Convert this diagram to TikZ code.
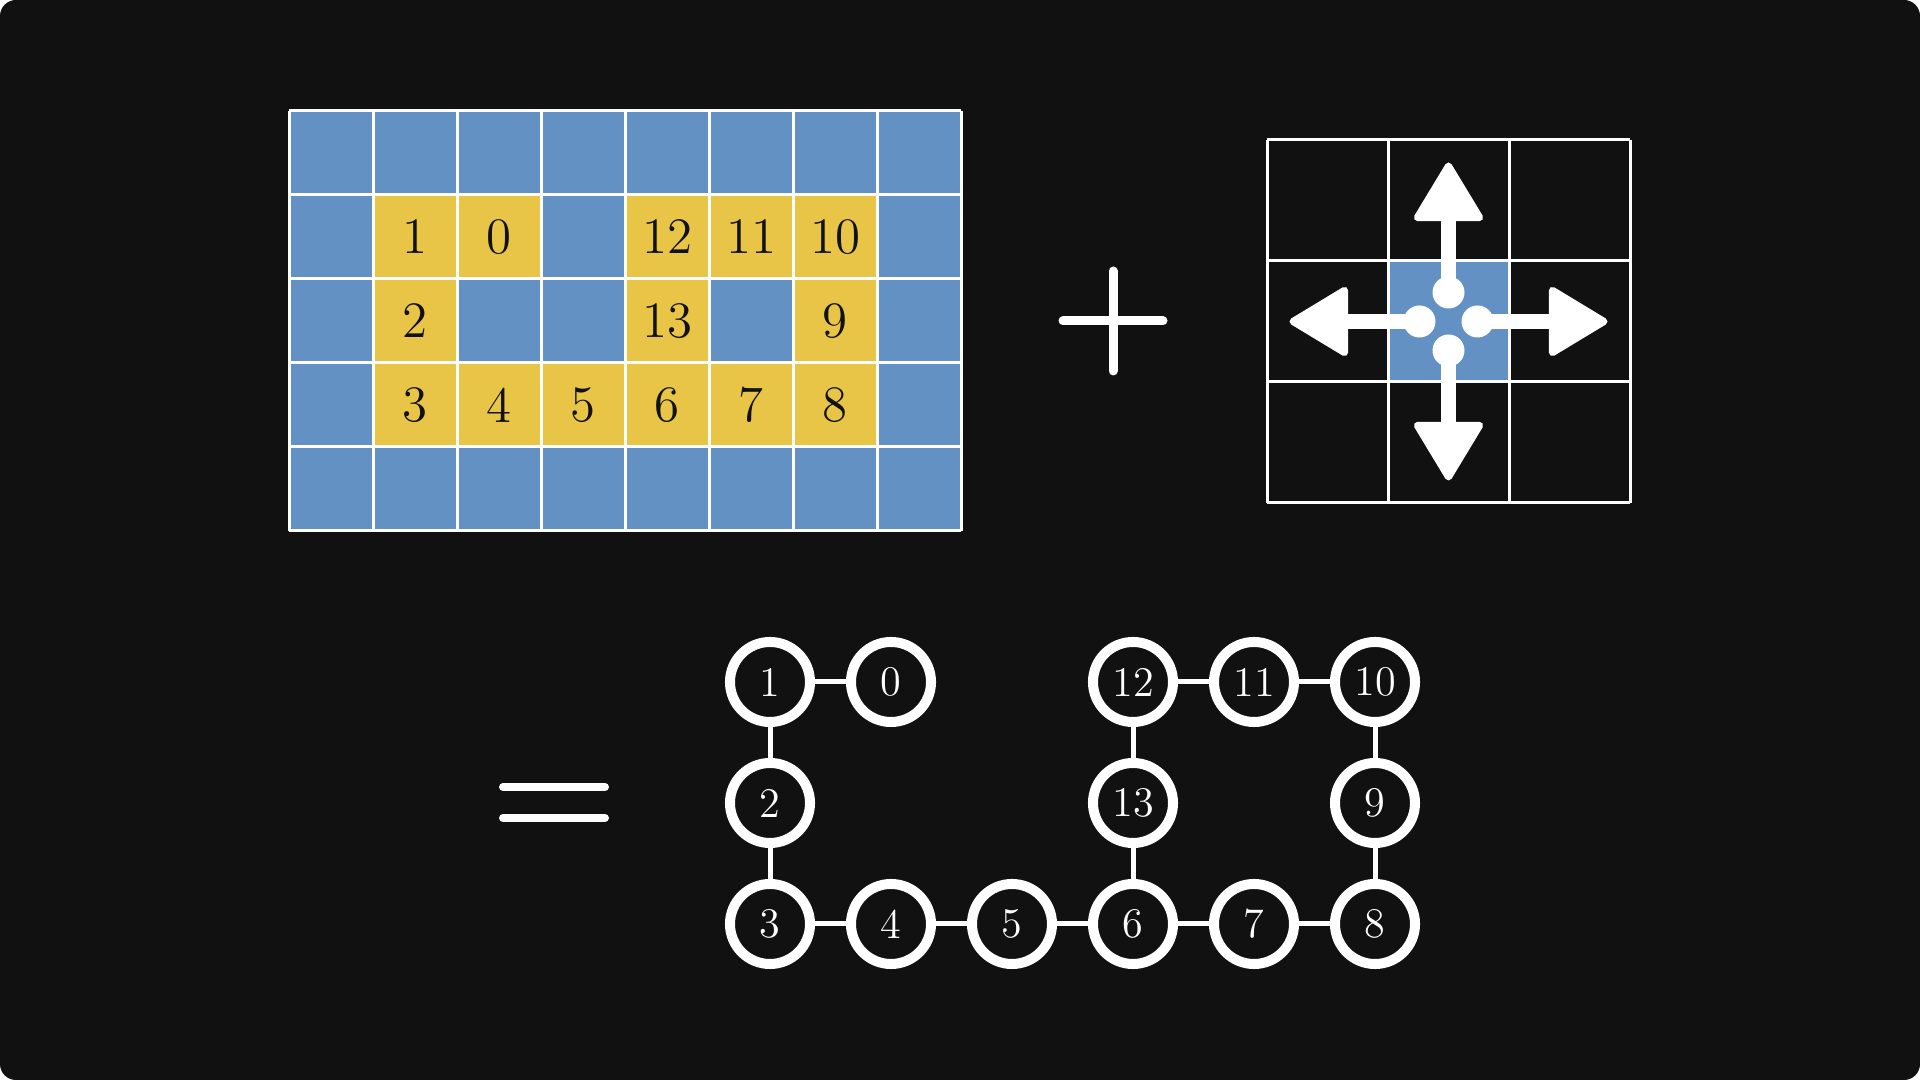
\documentclass[tikz,border=0pt]{standalone}
\usepackage{tikz,ifthen}
\usetikzlibrary{arrows.meta}
\definecolor{bgdark}{HTML}{111111}
\definecolor{cellblue}{HTML}{6391C4}
\definecolor{cellyellow}{HTML}{E8C547}

\tikzset{
  gridline/.style={white,line width=0.03cm,line cap=square},
  celltext/.style={text=bgdark,font=\fontsize{14.5}{17}\selectfont},
  vtx/.style={circle,draw=white,line width=0.1cm,minimum size=0.8cm,inner sep=0pt,
    text=white,font=\fontsize{12}{14}\selectfont},
  edge/.style={white,line width=0.05cm},
  flowarrow/.style={white,line width=0.15cm,
    -{Triangle[length=0.62cm,width=0.73cm,line width=2pt,round]}},
  bar/.style={white,line width=0.09cm,line cap=round}
}

\begin{document}
\begin{tikzpicture}[x=0.01cm,y=-0.01cm]
\useasboundingbox (0,0) rectangle (1920,1080);
\fill[white] (0,0) rectangle (1920,1080);
\fill[bgdark,rounded corners=0.16cm] (0,0) rectangle (1920,1080);

\fill[cellblue] (289,111) rectangle (961,531);
\foreach \c/\r/\n in {1/1/1,2/1/0,4/1/12,5/1/11,6/1/10,1/2/2,4/2/13,6/2/9,
                      1/3/3,2/3/4,3/3/5,4/3/6,5/3/7,6/3/8}
{
  \fill[cellyellow] (289+84*\c,111+84*\r) rectangle +(84,84);
  \node[celltext] (g\n) at (331+84*\c,153+84*\r) {\n};
  \node[vtx] (v\n) at (649+121*\c,561+121*\r) {\n};
}
\foreach \i in {0,...,8} \draw[gridline] (289+84*\i,111) -- ++(0,420);
\foreach \j in {0,...,5} \draw[gridline] (289,111+84*\j) -- ++(672,0);

\foreach \a/\b in {1/0,1/2,2/3,3/4,4/5,5/6,6/7,7/8,8/9,9/10,10/11,11/12,12/13,13/6}
  \draw[edge] (v\a) -- (v\b);

\draw[bar] (1113,271) -- (1113,371);
\draw[bar] (1063,321) -- (1163,321);
\draw[bar,line width=0.08cm] (503,787) -- (605,787);
\draw[bar,line width=0.08cm] (503,818) -- (605,818);

\fill[cellblue] (1388,261) rectangle +(121,121);
\foreach \i in {0,...,3}
{
  \draw[gridline] (1267+121*\i,140) -- ++(0,363);
  \draw[gridline] (1267,140+121*\i) -- ++(363,0);
}
\coordinate (ctr) at (1448.5,321.5);
\foreach \a/\nm in {0/e,90/s,180/w,270/n}
{
  \coordinate (d\nm) at ([shift={(\a:29)}]ctr);
  \coordinate (t\nm) at ([shift={(\a:159)}]ctr);
  \draw[flowarrow] (d\nm) -- (t\nm);
  \fill[white] (d\nm) circle (0.16cm);
}
\end{tikzpicture}
\end{document}
